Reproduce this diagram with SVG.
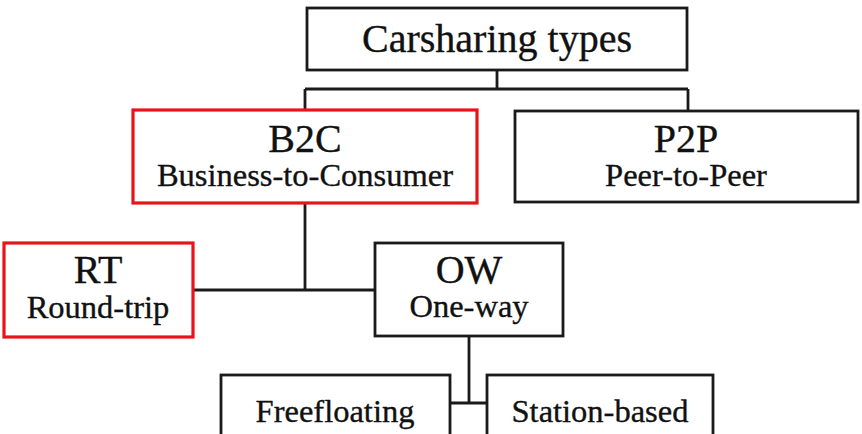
<svg xmlns="http://www.w3.org/2000/svg" width="862" height="434" viewBox="0 0 862 434">
  <style>
    .box { fill: #ffffff; stroke: #1a1a1a; stroke-width: 2.8; }
    .hl { stroke: #e8141a; stroke-width: 3.2; }
    .wire { fill: none; stroke: #1a1a1a; stroke-width: 2.8; }
    text { font-family: "Liberation Serif", "Times New Roman", serif; fill: #111; stroke: #111; stroke-width: 0.35; text-anchor: middle; }
    .big { font-size: 40px; }
    .sub { font-size: 32.5px; }
  </style>
  <rect width="862" height="434" fill="#ffffff"/>

  <g id="connectors">
    <path class="wire" d="M497,70 V89 M305,89 H688 M305,89 V110 M688,89 V111"/>
    <path class="wire" d="M305,203 V290 M193,290 H375"/>
    <path class="wire" d="M469,336 V403 M450,403 H487"/>
  </g>

  <g id="carsharing-types">
    <rect class="box" x="307" y="8" width="380" height="62"/>
    <text class="big" x="497" y="52">Carsharing types</text>
  </g>

  <g id="b2c">
    <rect class="box hl" x="133" y="110" width="344" height="93"/>
    <text class="big" x="305" y="152">B2C</text>
    <text class="sub" x="305" y="186">Business-to-Consumer</text>
  </g>

  <g id="p2p">
    <rect class="box" x="515" y="111" width="343" height="91"/>
    <text class="big" x="686" y="152">P2P</text>
    <text class="sub" x="686" y="186">Peer-to-Peer</text>
  </g>

  <g id="rt">
    <rect class="box hl" x="4" y="243" width="189" height="94"/>
    <text class="big" x="98" y="283">RT</text>
    <text class="sub" x="98" y="318">Round-trip</text>
  </g>

  <g id="ow">
    <rect class="box" x="375" y="243" width="188" height="93"/>
    <text class="big" x="469" y="283">OW</text>
    <text class="sub" x="469" y="317">One-way</text>
  </g>

  <g id="freefloating">
    <rect class="box" x="221" y="375" width="229" height="70"/>
    <text class="sub" x="335" y="422">Freefloating</text>
  </g>

  <g id="station-based">
    <rect class="box" x="487" y="375" width="226" height="70"/>
    <text class="sub" x="600" y="422">Station-based</text>
  </g>
</svg>
